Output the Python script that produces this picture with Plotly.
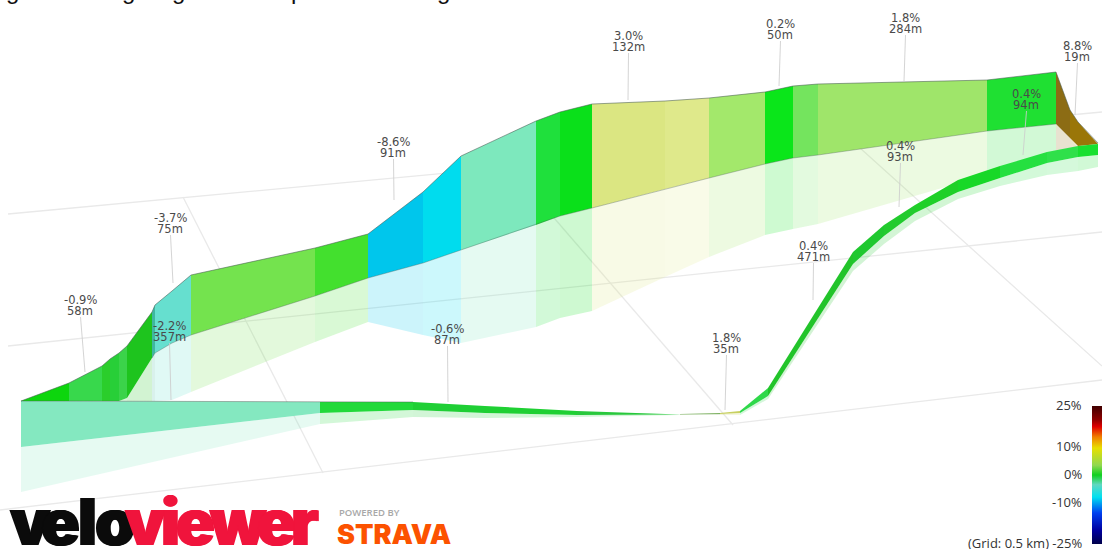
import plotly.graph_objects as go

# ---- profile (projected plot units) ----
wall_x      = [21, 69, 102, 110, 119, 127, 152, 155, 172, 191, 315, 368, 423, 461, 536, 560, 592, 665, 709, 765, 793, 818, 987, 1056, 1070, 1078, 1098]
wall_top    = [401, 383, 366, 359, 353, 346, 312, 305, 291, 275, 248, 234, 192, 156, 121, 112, 104, 101, 98, 92, 86, 84, 80, 72, 110, 122, 143]
wall_bottom = [401, 401, 401, 401, 401, 398, 358, 353, 343, 335, 296, 278, 263, 250, 225, 216, 208, 189, 178, 164, 158, 155, 131, 124, 138, 146, 144]
wall_shadow = [401, 401, 401, 401, 401, 401, 401, 401, 400, 392, 342, 322, 335, 343, 327, 318, 311, 277, 257, 235, 229, 224, 175, 151, 149, 147, 144]

ribbon_x      = [21, 320, 413, 485, 577, 680, 720, 740, 768, 853, 884, 915, 958, 1000, 1047, 1078, 1098]
ribbon_top    = [401, 402, 402, 406, 411, 414, 413, 411, 388, 252, 225, 205, 180, 166, 152, 146, 144]
ribbon_bottom = [447, 413, 410, 413, 415, 414.5, 414, 413, 396, 264, 236, 213, 192, 178, 163, 157, 155]
ribbon_shadow = [492, 424, 417, 418, 417, 415, 415, 415, 399, 271, 244, 221, 199, 186, 175, 171, 167]

label_grade  = ["-0.9%", "-3.7%", "-2.2%", "-8.6%", "-0.6%", "3.0%", "0.2%", "1.8%", "8.8%", "0.4%", "0.4%", "0.4%", "1.8%"]
label_length = ["58m", "75m", "357m", "91m", "87m", "132m", "50m", "284m", "19m", "94m", "93m", "471m", "35m"]
label_x      = [80, 170, 169, 393, 447, 628, 780, 905, 1077, 1026, 900, 813, 726]
label_y      = [300, 218, 326, 142, 329, 36, 24, 18, 46, 94, 146, 246, 338]
leader_end_x = [85, 173, 171, 394, 448, 628, 779, 904, 1075, 1023, 899, 813, 725]
leader_end_y = [372, 283, 400, 200, 402, 100, 86, 81, 115, 155, 207, 300, 410]

scale_ticks  = [25, 10, 0, -10, -25]
scale_labels = ["25%", "10%", "0%", "-10%", "(Grid: 0.5 km) -25%"]

# ---- styles ----
wall_colors = ["#0dd60d", "#38d84c", "#2bce2b", "#28cf38", "#3bd34a", "#1ec41e", "#3fb7a0", "#66dfcf", "#66dfcf",
               "#74e34e", "#43e02e", "#00c6ec", "#00dcee", "#7de8bd", "#1fe03c", "#0ae01a", "#dbe682", "#dfe98b",
               "#a3e86b", "#0ae61a", "#74e45e", "#9fe56a", "#1fe032", "#8c6c14", "#9a7608", "#9a7608"]
ribbon_colors = ["#84e8c0", "#22d93a", "#1fcf35", "#1fd033", "#28c83c", "#7cb060", "#c8d060", "#2fd84a", "#22c42a",
                 "#1fc82f", "#22cb2e", "#1fd028", "#18d828", "#25e040", "#2fe04a", "#18e030"]
colorscale = [[0, "#00004a"], [0.10, "#0000a0"], [0.225, "#0040f0"], [0.34, "#00e0f0"], [0.43, "#60d8c0"],
              [0.5, "#10d020"], [0.57, "#90d850"], [0.695, "#e8e000"], [0.775, "#f08000"], [0.85, "#e00000"],
              [0.9, "#900000"], [1, "#400000"]]
GRID = "#e9e9e9"
TEXT = "#4a4a4a"


def rgba(hex_color, a):
    r, g, b = (int(hex_color[i:i + 2], 16) for i in (1, 3, 5))
    return f"rgba({r},{g},{b},{a})"


def band(x, upper, lower, i, color):
    return go.Scatter(x=[x[i], x[i + 1], x[i + 1], x[i], x[i]],
                      y=[upper[i], upper[i + 1], lower[i + 1], lower[i], upper[i]],
                      mode="lines", fill="toself", fillcolor=color, line=dict(width=0),
                      hoverinfo="skip", showlegend=False)


def line(x, y, color, width=1.0):
    return go.Scatter(x=x, y=y, mode="lines", line=dict(color=color, width=width),
                      hoverinfo="skip", showlegend=False)


fig = go.Figure()

# ground grid
for gx, gy in [([8, 1102], [214, 112]), ([8, 1102], [346, 232]), ([0, 1102], [510, 380]),
               ([183, 323], [197, 473]), ([510, 733], [167, 425]), ([860, 1102], [148, 366])]:
    fig.add_trace(line(gx, gy, GRID, 1.3))

# shadows then walls
for i, c in enumerate(wall_colors):
    fig.add_trace(band(wall_x, wall_bottom, wall_shadow, i, rgba(c, 0.2)))
for i, c in enumerate(ribbon_colors):
    fig.add_trace(band(ribbon_x, ribbon_bottom, ribbon_shadow, i, rgba(c, 0.2)))
for i, c in enumerate(wall_colors):
    fig.add_trace(band(wall_x, wall_top, wall_bottom, i, c))
for i, c in enumerate(ribbon_colors):
    fig.add_trace(band(ribbon_x, ribbon_top, ribbon_bottom, i, c))

# edges of the walls
fig.add_trace(line(wall_x, wall_top, "rgba(70,90,80,0.55)", 1))
fig.add_trace(line(wall_x[6:24], wall_bottom[6:24], "rgba(70,90,80,0.35)", 1))
fig.add_trace(line(ribbon_x[:3], ribbon_top[:3], "rgba(70,90,80,0.45)", 1))

# leaders and labels
for lx, ly, ex, ey in zip(label_x, label_y, leader_end_x, leader_end_y):
    fig.add_trace(line([lx + 0.5, ex], [ly + 17, ey], "rgba(205,205,205,0.85)", 1))
annotations = []
for lx, ly, g, m in zip(label_x, label_y, label_grade, label_length):
    for dy, s in ((0, g), (11, m)):
        annotations.append(dict(x=lx, y=ly + dy, xref="x", yref="y", showarrow=False, text=s,
                                font=dict(family="DejaVu Sans", size=11.5, color=TEXT)))

# colour scale
fig.add_trace(go.Scatter(x=[-50], y=[-50], mode="markers", hoverinfo="skip", showlegend=False,
                         marker=dict(color=[0], cmin=-25, cmax=25, colorscale=colorscale, opacity=0, showscale=True,
                                     colorbar=dict(x=1092 / 1102, xanchor="left", y=1 - 406 / 549, yanchor="top",
                                                   thickness=10, thicknessmode="pixels", len=138, lenmode="pixels",
                                                   xpad=0, ypad=0, outlinewidth=0, showticklabels=False, ticks=""))))
for t, s in zip(scale_ticks, scale_labels):
    annotations.append(dict(x=1084, y=475 - 2.76 * t - 1, xref="x", yref="y", xanchor="right", showarrow=False,
                            text=s, font=dict(family="Open Sans", size=13, color="#333333")))

# cut-off caption line above the chart
for cx, ch in zip([12, 128, 178, 297, 443], ["g", "g", "g", "p", "g"]):
    annotations.append(dict(x=cx, y=1, xref="x", yref="paper", yanchor="bottom", showarrow=False, text=ch,
                            font=dict(family="Liberation Sans", size=24, color="#111111"), yshift=-6))

# logos
logo_letters = list("veloviewer")
logo_x = [30, 60, 87, 115, 145, 170, 195, 238, 276, 305]
logo_colors = ["#0b0b0b"] * 4 + ["#f0143c"] * 6
for lx, ch, col in zip(logo_x, logo_letters, logo_colors):
    annotations.append(dict(x=lx, y=521, xref="x", yref="y", showarrow=False, text=ch,
                            font=dict(family="Inter", size=64, color=col, weight=900,
                                      shadow=f"1px 0 0 {col}, -1px 0 0 {col}")))
annotations.append(dict(x=337, y=512, xref="x", yref="y", xanchor="left", showarrow=False, text="POWERED BY",
                        font=dict(family="Open Sans", size=9.5, color="#a8a8a8", weight=600)))
annotations.append(dict(x=335, y=534, xref="x", yref="y", xanchor="left", showarrow=False, text="STRAVA",
                        font=dict(family="Inter", size=27, color="#fc5200", weight=900)))

fig.update_layout(width=1102, height=549, margin=dict(l=0, r=0, t=0, b=0), autosize=False,
                  paper_bgcolor="white", plot_bgcolor="white", showlegend=False,
                  xaxis=dict(range=[0, 1102], visible=False, fixedrange=True),
                  yaxis=dict(range=[549, 0], visible=False, fixedrange=True),
                  annotations=annotations)
fig.write_html("out.html", config={"displayModeBar": False},
               post_script="document.body.style.margin='0';document.documentElement.style.overflow='hidden';")
